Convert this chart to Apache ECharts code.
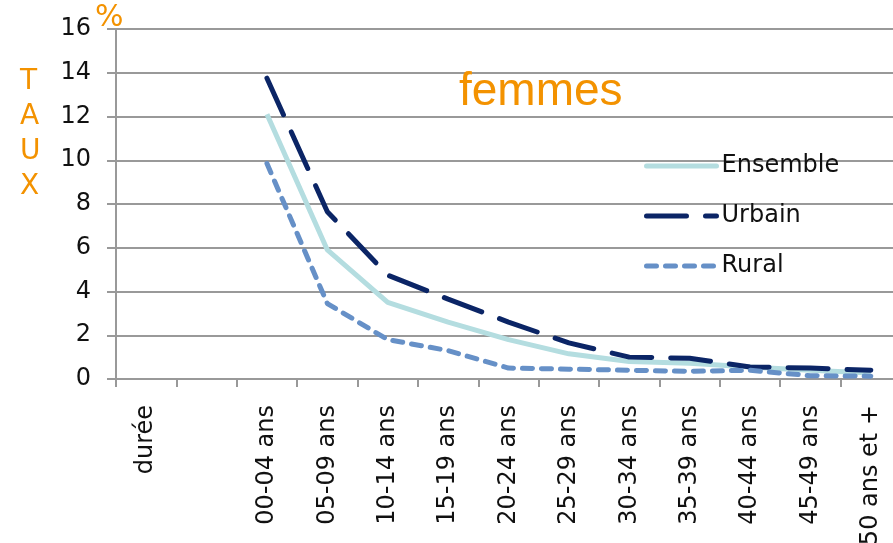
<!DOCTYPE html>
<html>
<head>
<meta charset="utf-8">
<script src="https://cdn.jsdelivr.net/npm/echarts@6/dist/echarts.min.js"></script>
<style>
  html, body { margin: 0; padding: 0; background: #fff; }
  #chart { width: 893px; height: 543px; }
</style>
</head>
<body>
<div id="chart"></div>
<script>
// categories (first two slots carry no data)
const categories = ['durée', '', '00-04 ans', '05-09 ans', '10-14 ans', '15-19 ans', '20-24 ans',
  '25-29 ans', '30-34 ans', '35-39 ans', '40-44 ans', '45-49 ans', '50 ans et +'];

const ensemble = [null, null, 12.1, 5.9, 3.5, 2.6, 1.8, 1.15, 0.8, 0.72, 0.55, 0.4, 0.27];
const urbain = [null, null, 13.75, 7.65, 4.75, 3.65, 2.6, 1.65, 1.0, 0.95, 0.55, 0.5, 0.4];
const rural = [null, null, 9.85, 3.45, 1.8, 1.3, 0.5, 0.45, 0.4, 0.35, 0.4, 0.15, 0.13];

const yTicks = [0, 2, 4, 6, 8, 10, 12, 14, 16];

const orange = '#F39200';
const grey = '#999999';
const font = 'DejaVu Sans';

const chart = echarts.init(document.getElementById('chart'));

const option = {
  animation: false,
  // plot runs past the right edge like the original, so no outer bounds fitting
  grid: { left: 116, top: 29, right: -8, bottom: 164, containLabel: false, outerBoundsMode: 'none' },
  title: {
    text: 'femmes',
    left: 454,
    top: 64,
    textStyle: { fontFamily: 'Liberation Sans', fontSize: 46, fontWeight: 'normal', color: orange }
  },
  legend: {
    orient: 'vertical',
    left: 639,
    top: 147,
    itemWidth: 70,
    itemHeight: 14,
    itemGap: 22,
    itemStyle: { opacity: 0 },
    lineStyle: { width: 5, cap: 'round' },
    textStyle: { fontFamily: font, fontSize: 24, color: '#111', lineHeight: 28 },
    data: ['Ensemble', 'Urbain', 'Rural']
  },
  graphic: [
    {
      type: 'text',
      left: 20,
      top: 64,
      style: { text: 'T\nA\nU\nX', font: '28px "DejaVu Sans"', fill: orange, lineHeight: 35, align: 'center' }
    },
    {
      type: 'text',
      left: 95,
      top: 3,
      style: { text: '%', font: '30px "DejaVu Sans"', fill: orange }
    }
  ],
  xAxis: {
    type: 'category',
    data: categories,
    boundaryGap: true,
    axisLine: { lineStyle: { color: grey, width: 2 } },
    axisTick: { show: true, length: 8, lineStyle: { color: grey, width: 2 } },
    axisLabel: {
      interval: 0,
      rotate: 90,
      margin: 26,
      fontFamily: font,
      fontSize: 24,
      color: '#111'
    }
  },
  yAxis: {
    type: 'value',
    min: yTicks[0],
    max: yTicks[yTicks.length - 1],
    interval: 2,
    axisLine: { show: true, lineStyle: { color: grey, width: 2 } },
    axisTick: { show: true, length: 9, lineStyle: { color: grey, width: 2 } },
    splitLine: { show: true, lineStyle: { color: grey, width: 2 } },
    axisLabel: { margin: 25, fontFamily: font, fontSize: 24, color: '#111' }
  },
  series: [
    {
      name: 'Ensemble',
      type: 'line',
      data: ensemble,
      symbol: 'none',
      itemStyle: { color: '#B4DDE0' },
      lineStyle: { color: '#B4DDE0', width: 5 }
    },
    {
      name: 'Urbain',
      type: 'line',
      data: urbain,
      symbol: 'none',
      itemStyle: { color: '#0B2566' },
      lineStyle: { color: '#0B2566', width: 5, type: [40, 19], cap: 'round' }
    },
    {
      name: 'Rural',
      type: 'line',
      data: rural,
      symbol: 'none',
      itemStyle: { color: '#6690C7' },
      lineStyle: { color: '#6690C7', width: 5, type: [10, 9], cap: 'round' }
    }
  ]
};

chart.setOption(option);
</script>
</body>
</html>
